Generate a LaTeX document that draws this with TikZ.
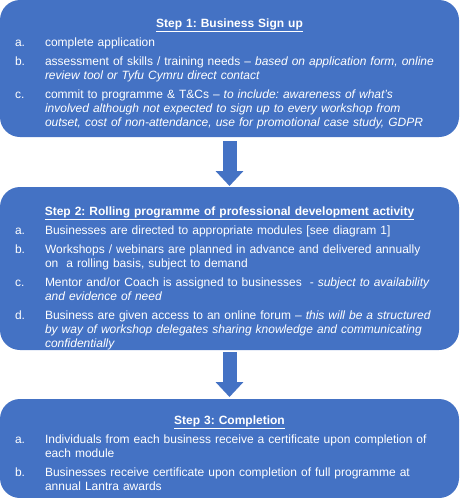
\documentclass[tikz,border=0pt]{standalone}
\usepackage{fontspec}
\setmainfont{Liberation Sans}
\usepackage{xcolor}
\usetikzlibrary{
  arrows.meta,
  positioning
}
\definecolor{stepblue}{HTML}{4472C4}
\frenchspacing
\newcommand{\stephead}[1]{{\centering\bfseries\underline{#1}\par}}
\newcommand{\stepitem}[2]{\par\noindent\hangindent=30pt\hangafter=1\makebox[30pt][l]{#1}#2\par}

\begin{document}
\begin{tikzpicture}[x=1pt,y=1pt,
  stepbox/.style={fill=stepblue, rounded corners=20pt, text=white, text width=429pt,
    inner xsep=15pt, inner ysep=4pt, outer sep=0pt, align=left,
    font=\fontsize{12}{14}\selectfont\setlength{\parskip}{5pt}},
  textdrop/.style={execute at end node={\endgraf\vspace*{-#1}}},
  flow/.style={stepblue, line width=14pt, -{Triangle[width=27pt,length=15pt]}}]
  \useasboundingbox (0,0) rectangle (459,-498);

  % nodes
  \node[stepbox, textdrop=10pt, minimum height=137pt, anchor=north] (signup) at (229.5,0) {%
    \stephead{Step 1: Business Sign up}
    \stepitem{a.}{complete application}
    \stepitem{b.}{assessment of skills / training needs -- \textit{based on application form, online}\newline
      \textit{review tool or Tyfu Cymru direct contact}}
    \stepitem{c.}{commit to programme \& T\&Cs -- \textit{to include: awareness of what’s}\newline
      \textit{involved although not expected to sign up to every workshop from}\newline
      \textit{outset, cost of non-attendance, use for promotional case study, GDPR}}};
  \node[stepbox, textdrop=20pt, minimum height=163pt, below=50pt of signup] (rolling) {%
    \stephead{Step 2: Rolling programme of professional development activity}
    \stepitem{a.}{Businesses are directed to appropriate modules [see diagram 1]}
    \stepitem{b.}{Workshops / webinars are planned in advance and delivered annually\newline
      on\ \ a rolling basis, subject to demand}
    \stepitem{c.}{Mentor and/or Coach is assigned to businesses\ \ - \textit{subject to availability}\newline
      \textit{and evidence of need}}
    \stepitem{d.}{Business are given access to an online forum -- \textit{this will be a structured}\newline
      \textit{by way of workshop delegates sharing knowledge and communicating}\newline
      \textit{confidentially}}};
  \node[stepbox, textdrop=10pt, minimum height=99pt, below=49pt of rolling] (complete) {%
    \stephead{Step 3: Completion}
    \stepitem{a.}{Individuals from each business receive a certificate upon completion of\newline
      each module}
    \stepitem{b.}{Businesses receive certificate upon completion of full programme at\newline
      annual Lantra awards}};

  % arrows
  \draw[flow, shorten <=4pt, shorten >=1pt] (signup) -- (rolling);
  \draw[flow, shorten <=2pt, shorten >=2pt] (rolling) -- (complete);
\end{tikzpicture}
\end{document}
